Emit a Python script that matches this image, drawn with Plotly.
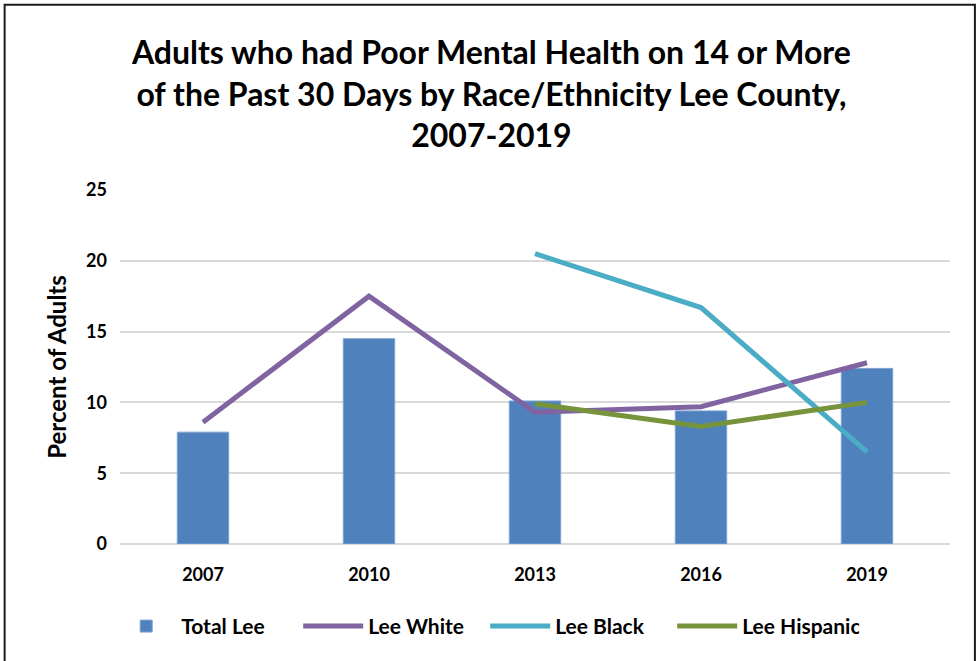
import plotly.graph_objects as go

# Values
years = ["2007", "2010", "2013", "2016", "2019"]
total_lee = [7.9, 14.5, 10.1, 9.4, 12.4]
lee_white = [8.6, 17.5, 9.3, 9.7, 12.8]
lee_black = [None, None, 20.5, 16.7, 6.5]
lee_hispanic = [None, None, 9.9, 8.3, 10.0]
y_ticks = [0, 5, 10, 15, 20, 25]

font_family = "Lato, 'Open Sans', Arial, sans-serif"
bold = dict(family=font_family, color="#000000", weight="bold")

fig = go.Figure()

fig.add_trace(go.Bar(
    x=years, y=total_lee, name="Total Lee",
    marker=dict(color="#4f81bd", line=dict(color="#7ea3d3", width=1)),
    width=0.31,
))

line_style = dict(width=5, shape="linear")
fig.add_trace(go.Scatter(x=years, y=lee_white, name="Lee White", mode="lines",
                         line=dict(color="#8064a2", **line_style)))
fig.add_trace(go.Scatter(x=years, y=lee_black, name="Lee Black", mode="lines",
                         line=dict(color="#4bacc6", **line_style)))
fig.add_trace(go.Scatter(x=years, y=lee_hispanic, name="Lee Hispanic", mode="lines",
                         line=dict(color="#77933c", **line_style)))

fig.update_layout(
    width=977, height=661,
    margin=dict(l=120, r=27, t=190, b=117),
    paper_bgcolor="white", plot_bgcolor="white",
    font=dict(family=font_family, color="#000000"),
    title=dict(
        text="Adults who had Poor Mental Health on 14 or More<br>"
             "of the Past 30 Days by Race/Ethnicity Lee County,<br>2007-2019",
        x=0.503, xanchor="center", y=0.903, yanchor="top",
        font=dict(size=32, **bold),
    ),
    xaxis=dict(
        tickfont=dict(size=18, **bold),
        showgrid=False, showline=False, ticks="",
        ticklabelstandoff=18, automargin=False,
    ),
    yaxis=dict(
        range=[0, 25], tickvals=y_ticks,
        tickfont=dict(size=18, **bold),
        showgrid=True, gridcolor="#d9d9d9", gridwidth=1.5,
        zeroline=True, zerolinecolor="#d9d9d9", zerolinewidth=1.5,
        showline=False, ticks="", ticklabelstandoff=12, automargin=False,
        title=dict(text="Percent of Adults",
                   font=dict(size=24, **bold),
                   standoff=12),
    ),
    legend=dict(
        orientation="h", x=0.44, xanchor="center", y=-0.175, yanchor="top",
        font=dict(size=21, **bold),
        traceorder="normal", itemwidth=60, entrywidth=112,
    ),
    bargap=0.69,
    shapes=[dict(
        type="rect", xref="paper", yref="paper",
        x0=-0.139, x1=1.030, y0=-0.5, y1=1.523,
        line=dict(color="#1a1a1a", width=2), fillcolor="rgba(0,0,0,0)",
        layer="below",
    )],
)

fig.write_html("out.html", config={"displayModeBar": False},
               post_script="document.body.style.margin='0';")
